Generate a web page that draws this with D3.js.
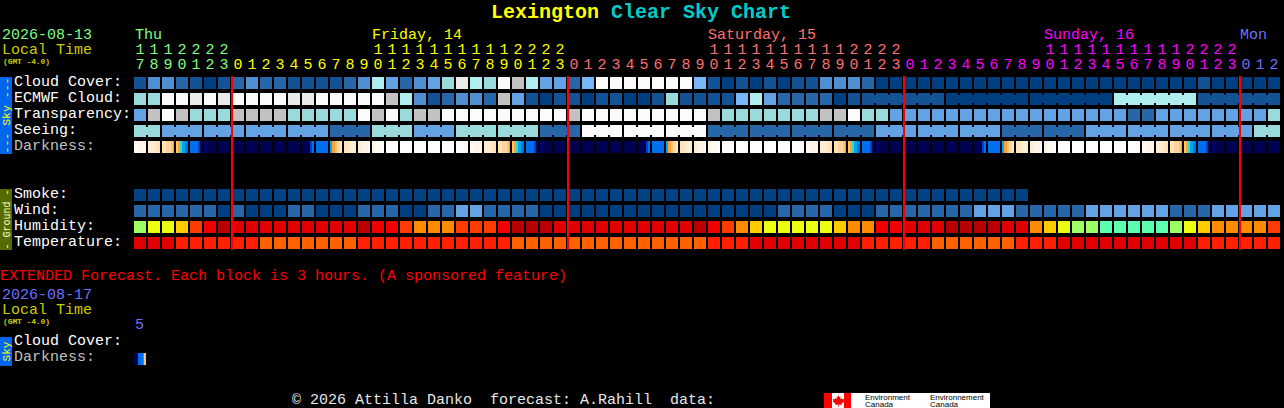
<!DOCTYPE html>
<html><head><meta charset="utf-8">
<script src="https://cdn.jsdelivr.net/npm/d3@7"></script>
<style>
html,body{margin:0;padding:0;background:#000;overflow:hidden}
svg{display:block}
text{font-family:"Liberation Mono",monospace;font-size:15px;white-space:pre}
</style></head><body>
<script>
const hours=[17,18,19,20,21,22,23,
0,1,2,3,4,5,6,7,8,9,10,11,12,13,14,15,16,17,18,19,20,21,22,23,
0,1,2,3,4,5,6,7,8,9,10,11,12,13,14,15,16,17,18,19,20,21,22,23,
0,1,2,3,4,5,6,7,8,9,10,11,12,13,14,15,16,17,18,19,20,21,22,23,
0,1,2];
const dayLabels=["Thu","Friday, 14","Saturday, 15","Sunday, 16","Mon"];
const dayLabelColumns=[0,17,41,65,79];
const dayStartColumns=[0,7,31,55,79];
const dayColors=["#80ff80","#ffff00","#ff7070","#ff00ff","#7070ff"];
const rowLabels=["Cloud Cover:","ECMWF Cloud:","Transparency:","Seeing:","Darkness:","","","Smoke:","Wind:","Humidity:","Temperature:"];

const cloudCover=[1,3,3,2,1,0,1,2,3,2,
2,1,1,1,1,2,3,7,4,2,
3,4,6,9,7,6,10,8,7,4,
4,2,5,10,10,10,10,10,10,10,
5,1,0,1,0,1,0,1,1,3,
3,3,2,0,0,0,0,0,0,0,
0,0,0,0,0,0,0,0,0,0,
0,0,0,0,0,0,1,0,0,0,
0,0];
const ecmwfHourly=[6,6,10,10,9,10,9,10,10,10,
10,9,9,10,10,10,10,10,8,7,
3,1,2,3,3,2,8,4,1,0,
1,1,0,1,1,0,0,1,6,1,
1,1,1,5,7,4,2,2,2,2,
0,1];
const ecmwfBlocks=[[6,1],[6,0],[6,0],[6,7],[6,1]];
const transparency=[4,8,10,8,6,6,6,8,8,8,
8,6,6,6,6,6,10,8,10,6,
8,8,10,10,10,10,10,10,10,10,
10,8,10,10,10,10,10,10,10,10,
10,8,6,6,6,6,6,6,6,8,
8,10,6,6,4,4,4,4,4,4,
4,4,4,4,4,4,4,4,4,4,
4,2,2,4,4,4,4,4,4,4,
4,6];
const seeingBlocks=[[2,6],[3,4],[3,4],[3,4],[3,4],[3,2],[3,6],[3,4],[3,6],[3,6],[3,2],[3,10],[3,10],[3,10],[3,2],[3,2],[3,2],[3,2],[3,4],[3,4],[3,4],[3,2],[3,2],[3,4],[3,4],[3,4],[3,4],[2,6]];
const darkness=[
"bbbbcccccccc","ddddddddeeee","eeeefffffggh","gghhiijjjkkk","kkkkkkkkllmm","mmmnnnnnnnnn","nnnnnnnnnnnn",
"nnnnnnnnnnnn","nnnnnnnnnnnn","nnnnnnnnnnnn","nnnnnnnnnnnn","nnnnnnnnnnnn","nnnnnnnnllkk","kkkkkkkkkkkk",
"jjhhhggfffee","eeeeeddddddd","dddcccccccbb","cccbbbbbbbaa","aaaaaaaaaaaa","aaaaaaaaaaaa","aaaaaaaaaaaa","aaaaaaaaaaaa","aaaaaaaaaaaa",
"aaaaaaabbbbb","bbbbcccccccc","ddddddddeeee","eeeefffffggh","gghhiijjjkkk","kkkkkkkkllmm","mmmnnnnnnnnn","nnnnnnnnnnnn",
"nnnnnnnnnnnn","nnnnnnnnnnnn","nnnnnnnnnnnn","nnnnnnnnnnnn","nnnnnnnnnnnn","nnnnnnnnllkk","kkkkkkkkkkkk",
"jjhhhggfffee","eeeeeddddddd","dddcccccccbb","cccbbbbbbbaa","aaaaaaaaaaaa","aaaaaaaaaaaa","aaaaaaaaaaaa","aaaaaaaaaaaa","aaaaaaaaaaaa",
"aaaaaaabbbbb","bbbbcccccccc","ddddddddeeee","eeeefffffggh","gghhiijjjkkk","kkkkkkkkllmm","mmmnnnnnnnnn","nnnnnnnnnnnn",
"nnnnnnnnnnnn","nnnnnnnnnnnn","nnnnnnnnnnnn","nnnnnnnnnnnn","nnnnnnnnnnnn","nnnnnnnnllkk","kkkkkkkkkkkk",
"jjhhhggfffee","eeeeeddddddd","dddcccccccbb","cccbbbbbbbaa","aaaaaaaaaaaa","aaaaaaaaaaaa","aaaaaaaaaaaa","aaaaaaaaaaaa","aaaaaaaaaaaa",
"aaaaaaabbbbb","bbbbcccccccc","ddddddddeeee","eeeefffffggh","gghhiijjjkkk","kkkkkkkkllmm","mmmnnnnnnnnn","nnnnnnnnnnnn",
"nnnnnnnnnnnn","nnnnnnnnnnnn","nnnnnnnnnnnn"];
const extendedDarkness=["nnnnkkkkkjgg"];
const smoke=new Array(64).fill(0);
const wind=[2,2,2,2,2,2,0,2,0,0,
0,2,2,0,0,0,2,2,2,0,
0,2,2,4,4,2,2,2,2,0,
0,0,0,0,0,0,0,0,0,0,
0,0,0,0,0,0,2,2,2,2,
0,0,0,2,2,2,2,2,2,2,
4,4,4,2,2,2,2,2,4,4,
4,4,4,4,2,2,2,4,4,4,
4,4];
const humidity=[55,60,60,65,75,80,90,85,85,85,
85,85,85,85,85,85,90,80,80,75,
70,70,70,75,75,75,80,90,90,90,
85,85,85,85,85,85,85,85,85,85,
90,80,75,70,65,60,60,60,60,60,
65,70,70,80,80,85,85,85,90,90,
90,90,85,85,70,65,60,55,55,50,
50,50,50,50,55,60,65,70,70,70,
70,75];
const temperature=[28,28,28,26,26,26,26,26,26,24,
24,24,24,24,24,24,26,26,26,26,
26,26,26,26,26,26,26,24,24,24,
24,24,24,24,24,24,24,24,24,24,
24,26,26,26,28,28,28,28,28,28,
28,28,26,26,26,26,26,24,24,24,
24,24,24,26,26,26,28,28,28,28,
28,28,28,28,28,28,26,26,26,26,
26,26];

const expand=b=>b.flatMap(([n,v],k)=>d3.range(n).map(()=>({v,k})));
const seeing=expand(seeingBlocks);
const ecmwf=[...ecmwfHourly.map((v,k)=>({v,k})),...expand(ecmwfBlocks).map(d=>({v:d.v,k:d.k+1000}))];

const cloudColor=d3.scaleOrdinal([0,1,2,3,4,5,6,7,8,9,10],
 ["#003f7f","#135393","#2767a7","#4f8fcf","#63a3e3","#77b7f7","#9adada","#aeeeee","#c2c2c2","#eaeaea","#fbfbfb"]);
const humidityColor=d3.scaleOrdinal([50,55,60,65,70,75,80,85,90],
 ["#5cffb0","#9cff64","#ecff12","#ffcc00","#ff8c00","#ff3c00","#f00000","#e00000","#b80000"]);
const temperatureColor=d3.scaleOrdinal([24,26,28],["#ff6000","#ff2000","#e00000"]);
const darknessColor=d3.scaleOrdinal("abcdefghijklmn".split(""),
 ["#ffffff","#fffbf4","#fff5e6","#ffedd5","#ffe3bc","#ffd59a","#ffc46e","#ffa030","#30e0c8","#00a8f0","#0070f0","#0040c8","#000070","#000050"]);

const W=1284,H=408;
const svg=d3.select("body").append("svg").attr("width",W).attr("height",H).attr("viewBox",`0 0 ${W} ${H}`).style("background","#000");
const marks=svg.append("g").attr("shape-rendering","crispEdges");

const x=d3.scaleBand().domain(hours.map((_,i)=>i)).range([133,1281]).paddingInner(2/14).paddingOuter(1/14);
const rowIds=rowLabels.map((_,i)=>i);
const y=d3.scaleBand().domain(rowIds).range([75,75+16*rowIds.length]).paddingInner(.25).paddingOuter(.125);

function cells(values,row,color){
  marks.append("g").selectAll("rect").data(values).join("rect")
   .attr("x",(_,i)=>x(i)).attr("y",y(row)).attr("width",x.bandwidth()).attr("height",y.bandwidth())
   .attr("fill",d=>color(d));
}
function blocks(values,row){
  const g=marks.append("g");
  g.selectAll("rect.c").data(values).join("rect").attr("class","c")
   .attr("x",(_,i)=>x(i)).attr("y",y(row)).attr("width",x.bandwidth()).attr("height",y.bandwidth())
   .attr("fill",d=>cloudColor(d.v));
  g.selectAll("rect.j").data(values.map((d,i)=>({...d,i})).filter(d=>values[d.i+1]&&values[d.i+1].k===d.k)).join("rect").attr("class","j")
   .attr("x",d=>x(d.i)+x.bandwidth()).attr("y",y(row)+2).attr("width",x.step()-x.bandwidth()).attr("height",y.bandwidth()-4)
   .attr("fill",d=>cloudColor(d.v));
}
function darkCells(values,top){
  values.forEach((s,i)=>{
    const sx=d3.scaleBand().domain(d3.range(s.length)).range([x(i),x(i)+x.bandwidth()]);
    marks.append("g").selectAll("rect").data(s.split("")).join("rect")
     .attr("x",(_,j)=>sx(j)).attr("y",top).attr("width",sx.bandwidth()).attr("height",y.bandwidth())
     .attr("fill",d=>darknessColor(d));
  });
}
cells(cloudCover,0,cloudColor);
blocks(ecmwf,1);
cells(transparency,2,cloudColor);
blocks(seeing,3);
darkCells(darkness,y(4));
const defs=svg.append("defs");
const pat=defs.append("pattern").attr("id","dith").attr("width",2).attr("height",2).attr("patternUnits","userSpaceOnUse");
pat.append("rect").attr("width",2).attr("height",2).attr("fill","#003f7f");
pat.append("rect").attr("width",1).attr("height",1).attr("fill","#064684");
pat.append("rect").attr("x",1).attr("y",1).attr("width",1).attr("height",1).attr("fill","#064684");
cells(smoke,7,()=>"url(#dith)");
cells(wind,8,cloudColor);
cells(humidity,9,humidityColor);
cells(temperature,10,temperatureColor);
darkCells(extendedDarkness,353);

// midnight lines
marks.append("g").selectAll("rect").data(hours.map((h,i)=>({h,i})).filter(d=>d.h===0)).join("rect")
 .attr("x",d=>x(d.i)-1).attr("y",76).attr("width",2).attr("height",174).attr("fill","#ff0000");

// side bars
marks.append("rect").attr("x",0).attr("y",77).attr("width",12).attr("height",77).attr("fill","#0066ee");
marks.append("rect").attr("x",0).attr("y",189).attr("width",12).attr("height",61).attr("fill","#556b00");
marks.append("rect").attr("x",0).attr("y",337).attr("width",12).attr("height",29).attr("fill","#0066ee");

function t(str,px,py,fill,size,extra){
  const e=svg.append("text").attr("x",px).attr("y",py).attr("fill",fill).text(str);
  if(size)e.style("font-size",size+"px");
  if(extra)extra(e);
  return e;
}
function side(str,cy,fill,size,len){
  svg.append("text").attr("transform",`translate(10,${cy}) rotate(-90)`).attr("text-anchor","middle")
   .attr("fill",fill).style("font-size",size+"px").attr("textLength",len).attr("lengthAdjust","spacingAndGlyphs").text(str);
}
side("--- Sky ---",115.5,"#ffff00",11,76);
side("- Ground -",219.5,"#ffffd0",10,60);
side("Sky",351.5,"#ffff00",11,20);

// title
const title=svg.append("text").attr("x",491).attr("y",18).style("font-size","20px").style("font-weight","bold");
title.append("tspan").attr("fill","#ffff00").text("Lexington");
title.append("tspan").attr("fill","#00cccc").text(" Clear Sky Chart");

// date + local time
t("2026-08-13",2,39,"#80ff80");
t("Local Time",2,54,"#cccc00");
t("(GMT -4.0)",3,64,"#cccc00",8,e=>e.style("font-weight","bold").attr("textLength",47));
dayLabels.forEach((s,i)=>t(s,x(dayLabelColumns[i])+(i==0?1:0),39,dayColors[i]));

// hour axes
const dayOf=i=>d3.bisectRight(dayStartColumns,i)-1;
function hourAxis(py,fmt){
  const g=svg.append("g").attr("transform",`translate(0,${py})`)
   .call(d3.axisTop(x).tickSize(0).tickPadding(0).tickFormat(fmt));
  g.select(".domain").remove();
  g.selectAll("text").style("font-family",'"Liberation Mono",monospace').style("font-size","15px")
   .attr("dy",0).attr("fill",i=>dayColors[dayOf(i)]);
}
hourAxis(54,i=>hours[i]>=10?String(Math.floor(hours[i]/10)):"");
hourAxis(69,i=>String(hours[i]%10));

// row labels
rowLabels.forEach((s,i)=>{ if(s) t(s,14,y(i)+9,s==="Darkness:"?"#c0c0c0":"#ffffff"); });

// extended section
t("EXTENDED Forecast. Each block is 3 hours. (A sponsored feature)",0,280,"#ff0000");
t("2026-08-17",2,299,"#7070ff");
t("Local Time",2,314,"#cccc00");
t("(GMT -4.0)",3,324,"#cccc00",8,e=>e.style("font-weight","bold").attr("textLength",47));
t("5",135,329,"#7070ff");
t("Cloud Cover:",14,345,"#ffffff");
t("Darkness:",14,361,"#c0c0c0");

// footer
t("© 2026 Attilla Danko  forecast: A.Rahill  data:",292,404,"#e8e8e8");
const logo=svg.append("g");
logo.append("rect").attr("x",824).attr("y",393).attr("width",166).attr("height",15).attr("fill","#ffffff").attr("shape-rendering","crispEdges");
logo.append("rect").attr("x",824).attr("y",393).attr("width",8).attr("height",15).attr("fill","#ff0000").attr("shape-rendering","crispEdges");
logo.append("rect").attr("x",844).attr("y",393).attr("width",7).attr("height",15).attr("fill","#ff0000").attr("shape-rendering","crispEdges");
logo.append("path").attr("d","M838 395 l1.2 2 1.3 -.6 -.5 2.6 1.8 -1 .4 1.2 2 -.3 -.6 2 .8 .5 -3 2.4 .4 1.2 -3 -.4 0 2.4 -.6 0 0 -2.4 -3 .4 .4 -1.2 -3 -2.4 .8 -.5 -.6 -2 2 .3 .4 -1.2 1.8 1 -.5 -2.6 1.3 .6z").attr("fill","#ff0000");
function logoText(s,px,py){
  svg.append("text").attr("x",px).attr("y",py).attr("fill","#000").style("font-family",'"Liberation Sans",sans-serif').style("font-size","8px").text(s);
}
logoText("Environment",865,400);
logoText("Canada",865,407);
logoText("Environnement",930,400);
logoText("Canada",930,407);
</script>
</body></html>
